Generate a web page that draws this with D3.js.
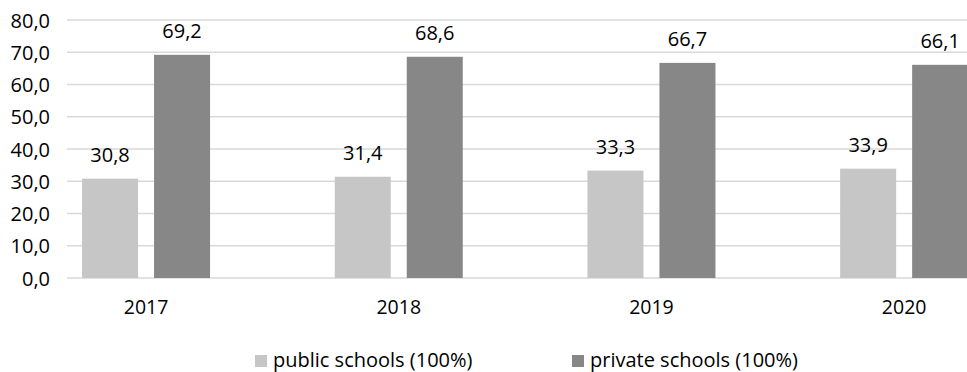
<!DOCTYPE html>
<html>
<head>
<meta charset="utf-8">
<script src="https://cdn.jsdelivr.net/npm/d3@7"></script>
<style>
  body { margin: 0; background: #fff; }
  text { font-family: "Open Sans", sans-serif; fill: #000; }
</style>
</head>
<body>
<div id="chart"></div>
<script>
// chart values
var years = ["2017", "2018", "2019", "2020"];
var seriesNames = ["public schools (100%)", "private schools (100%)"];
var publicValues = [30.8, 31.4, 33.3, 33.9];
var privateValues = [69.2, 68.6, 66.7, 66.1];
var yTicks = [0, 10, 20, 30, 40, 50, 60, 70, 80];

var colors = ["#c6c6c6", "#878787"];

var width = 967, height = 372;

// join the arrays into rows for d3
var rows = years.map(function(y, i) {
  return { year: y, values: [
    { name: seriesNames[0], value: publicValues[i] },
    { name: seriesNames[1], value: privateValues[i] }
  ] };
});

var svg = d3.select("#chart")
  .append("svg")
  .attr("width", width)
  .attr("height", height);

// y goes 0..80, gridline of 0 sits at 278 and 80 at 20
var y = d3.scaleLinear().domain([0, 80]).range([278, 20]);

// categories: band scale, the picture is cut on the right side
var x0 = d3.scaleBand().domain(years).range([19.7, 1030.5]).paddingInner(0).paddingOuter(0);

// two bars in a group with a small gap between them
var x1 = d3.scaleBand().domain(seriesNames).range([-64, 64]).paddingInner(0.2222);

// gridlines
svg.append("g")
  .selectAll("line")
  .data(yTicks)
  .enter()
  .append("line")
  .attr("x1", 67)
  .attr("x2", width)
  .attr("y1", function(d) { return y(d); })
  .attr("y2", function(d) { return y(d); })
  .style("stroke", "#d9d9d9")
  .style("stroke-width", 1.5);

// y axis labels
var yAxis = d3.axisLeft(y)
  .tickValues(yTicks)
  .tickSize(0)
  .tickPadding(0)
  .tickFormat(function(d) { return d3.format(".1f")(d).replace(".", ","); });

svg.append("g")
  .attr("transform", "translate(50,0)")
  .call(yAxis)
  .call(function(g) { g.select(".domain").remove(); })
  .selectAll("text")
  .attr("font-family", "Open Sans")
  .attr("font-size", 20)
  .attr("dy", "0.35em");

// x axis labels
var xAxis = d3.axisBottom(x0).tickSize(0).tickPadding(0);
svg.append("g")
  .attr("transform", "translate(0,297)")
  .call(xAxis)
  .call(function(g) { g.select(".domain").remove(); })
  .selectAll("text")
  .attr("font-family", "Open Sans")
  .attr("font-size", 19.5)
  .attr("dy", "0.35em")
  .attr("y", 10);

// bars
var group = svg.selectAll(".year")
  .data(rows)
  .enter()
  .append("g")
  .attr("class", "year")
  .attr("transform", function(d) {
    return "translate(" + (x0(d.year) + x0.bandwidth() / 2) + ",0)";
  });

group.selectAll("rect")
  .data(function(d) { return d.values; })
  .enter()
  .append("rect")
  .attr("x", function(d) { return x1(d.name); })
  .attr("width", x1.bandwidth())
  .attr("y", function(d) { return y(d.value); })
  .attr("height", function(d) { return y(0) - y(d.value); })
  .style("fill", function(d, i) { return colors[i]; });

// value labels above the bars
group.selectAll("text.val")
  .data(function(d) { return d.values; })
  .enter()
  .append("text")
  .attr("class", "val")
  .attr("x", function(d) { return x1(d.name) + x1.bandwidth() / 2; })
  .attr("y", function(d) { return y(d.value) - 24; })
  .attr("dy", "0.35em")
  .attr("text-anchor", "middle")
  .attr("font-size", 20)
  .text(function(d) { return d3.format(".1f")(d.value).replace(".", ","); });

// legend
var legendX = [255, 572];
var legend = svg.selectAll(".legend")
  .data(seriesNames)
  .enter()
  .append("g")
  .attr("class", "legend")
  .attr("transform", function(d, i) { return "translate(" + legendX[i] + ",355)"; });

legend.append("rect")
  .attr("width", 12)
  .attr("height", 12)
  .style("fill", function(d, i) { return colors[i]; });

legend.append("text")
  .attr("x", 18)
  .attr("y", 5)
  .attr("dy", "0.35em")
  .attr("font-size", 20)
  .text(function(d) { return d; });
</script>
</body>
</html>
